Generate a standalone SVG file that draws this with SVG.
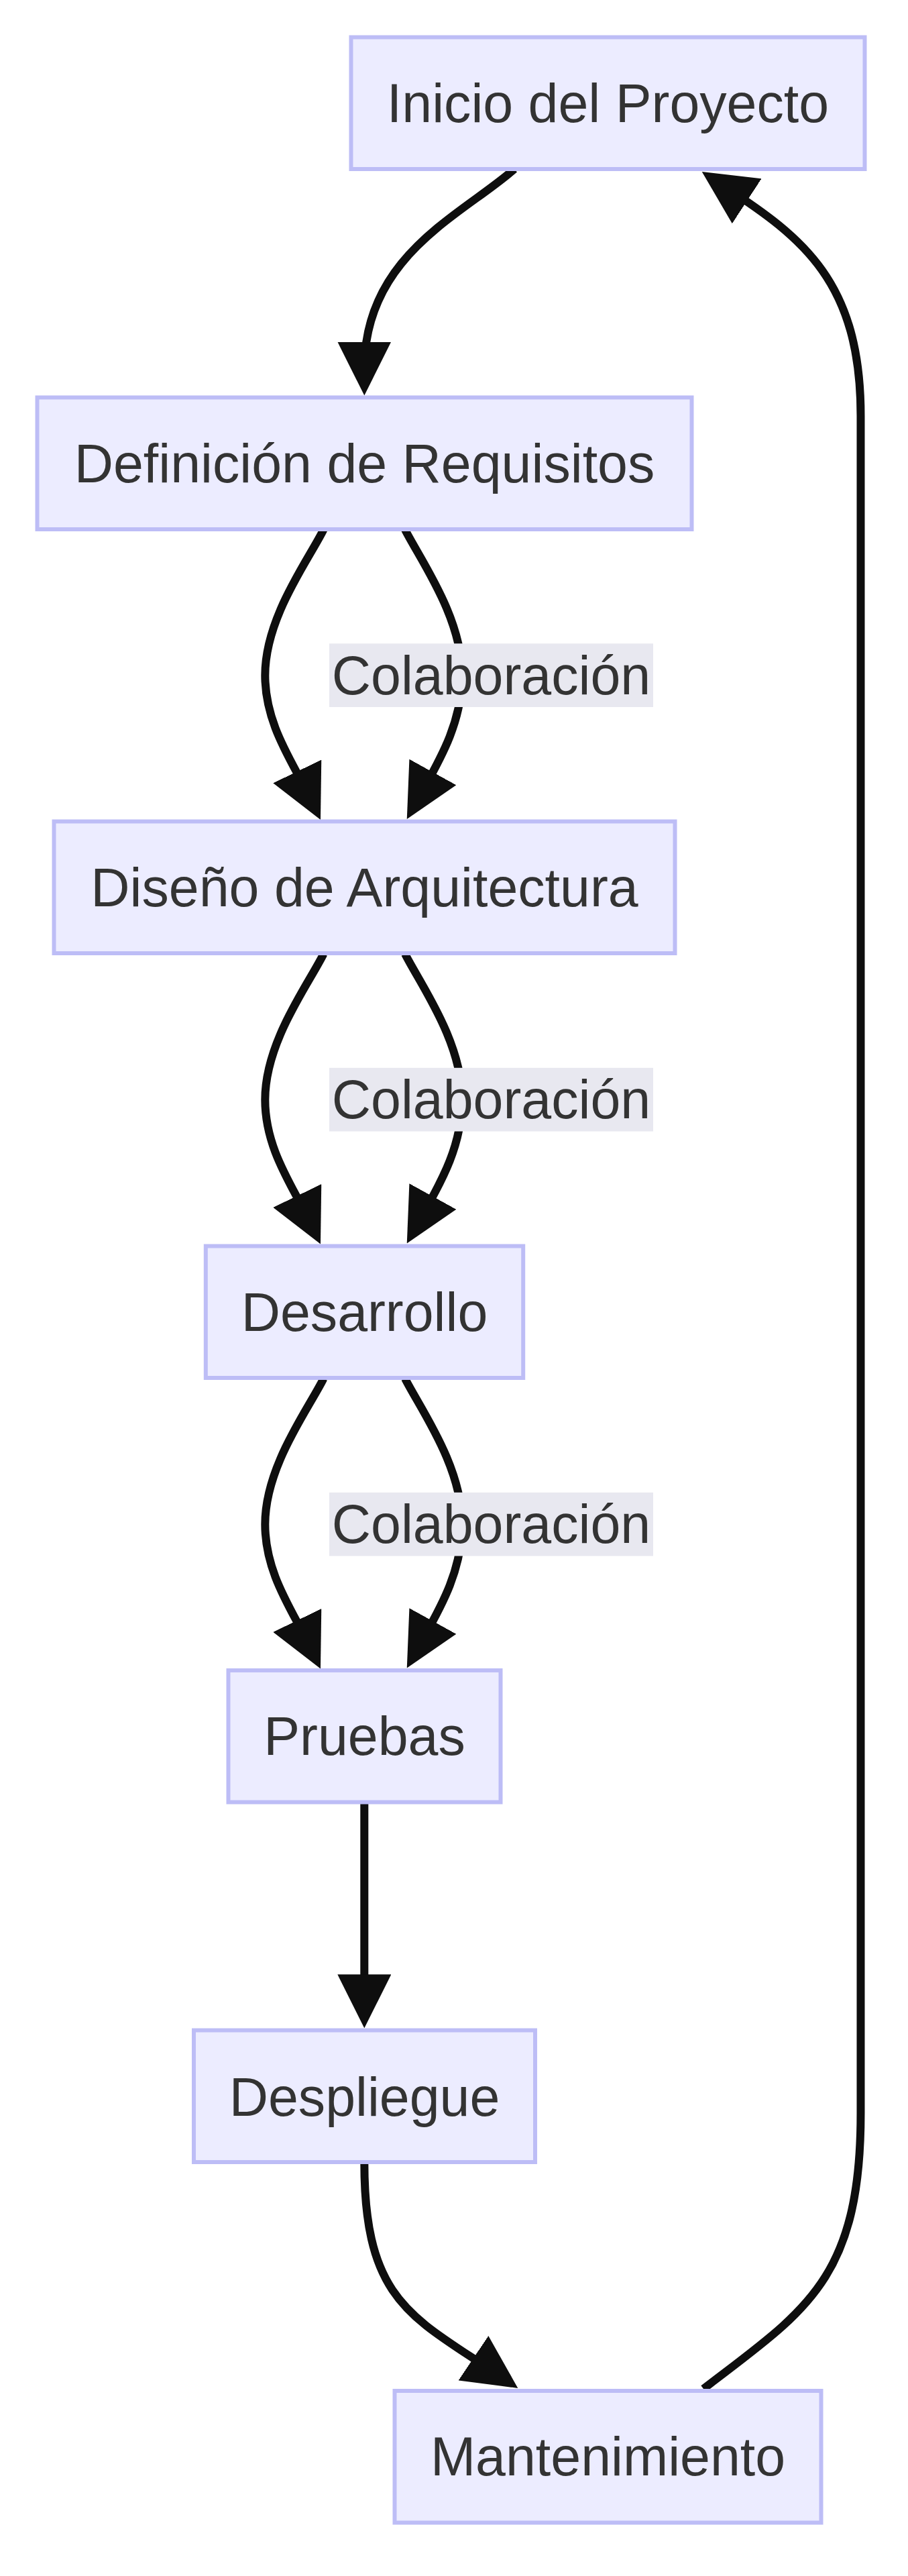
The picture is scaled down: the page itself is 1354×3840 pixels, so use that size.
<svg xmlns="http://www.w3.org/2000/svg" width="1354" height="3840" viewBox="0 0 1354 3840">
<style>
.node rect{fill:#ECECFF;stroke:#BDBDF6;stroke-width:6}
.node text,.lbl text{font-family:"Liberation Sans",Arial,sans-serif;font-size:80.7px;fill:#333333;text-anchor:middle}
.edge{fill:none;stroke:#0e0e0e;stroke-width:12}
.lbl rect{fill:#E8E8F0}
</style>
<defs>
<marker id="arrow" viewBox="0 0 10 10" refX="5" refY="5" markerUnits="userSpaceOnUse" markerWidth="80" markerHeight="80" orient="auto">
<path d="M0,0 L10,5 L0,10 z" fill="#0e0e0e"/>
</marker>
</defs>
<rect width="1354" height="3840" fill="#ffffff"/>
<g id="connectors">
<path class="edge" marker-end="url(#arrow)" d="M767,252 C690,320 543.3,380 543.3,549.5"/>
<path class="edge" marker-end="url(#arrow)" d="M482.5,789.5 C460,835 395.3,920 395.3,1006.7 C395.3,1080 436,1135 460.6,1186"/>
<path class="edge" marker-end="url(#arrow)" d="M604,789.5 C627,835 689,920 689,1006.7 C689,1080 652.6,1138 626.1,1186"/>
<path class="edge" marker-end="url(#arrow)" d="M482.5,1422 C460,1467.5 395.3,1552.5 395.3,1639.2 C395.3,1712.5 436,1767.5 460.6,1818.5"/>
<path class="edge" marker-end="url(#arrow)" d="M604,1422 C627,1467.5 689,1552.5 689,1639.2 C689,1712.5 652.6,1770.5 626.1,1818.5"/>
<path class="edge" marker-end="url(#arrow)" d="M482.5,2055 C460,2100.5 395.3,2185.5 395.3,2272.2 C395.3,2345.5 436,2400.5 460.6,2451.5"/>
<path class="edge" marker-end="url(#arrow)" d="M604,2055 C627,2100.5 689,2185.5 689,2272.2 C689,2345.5 652.6,2403.5 626.1,2451.5"/>
<path class="edge" marker-end="url(#arrow)" d="M543.3,2686.5 L543.3,2983.3"/>
<path class="edge" marker-end="url(#arrow)" d="M543.3,3223 C543.3,3430 614.6,3453.7 739.1,3537.6"/>
<path class="edge" marker-end="url(#arrow)" d="M1049,3561 C1200,3445 1283.5,3400 1283.5,3150 L1283.5,620 C1283.5,420 1197.5,354.5 1080.2,277.9"/>
</g>
<g id="labels">
<g class="lbl" id="label-1"><rect x="491" y="959.3" width="483" height="94.7"/><text x="732.5" y="1034.7">Colaboración</text></g>
<g class="lbl" id="label-2"><rect x="491" y="1591.8" width="483" height="94.7"/><text x="732.5" y="1667.2">Colaboración</text></g>
<g class="lbl" id="label-3"><rect x="491" y="2224.8" width="483" height="94.7"/><text x="732.5" y="2300.2">Colaboración</text></g>
</g>
<g class="node" id="inicio"><rect x="523.5" y="55.5" width="766" height="196.5"/><text x="906.5" y="181.5">Inicio del Proyecto</text></g>
<g class="node" id="definicion"><rect x="55.5" y="592.5" width="976" height="196.5"/><text x="543.5" y="718.7">Definición de Requisitos</text></g>
<g class="node" id="diseno"><rect x="80.5" y="1224.5" width="926" height="196.5"/><text x="543.5" y="1350.7">Diseño de Arquitectura</text></g>
<g class="node" id="desarrollo"><rect x="306.8" y="1857.5" width="473.4" height="196.5"/><text x="543.5" y="1983.5">Desarrollo</text></g>
<g class="node" id="pruebas"><rect x="340.5" y="2490" width="406" height="196.5"/><text x="543.5" y="2616.2">Pruebas</text></g>
<g class="node" id="despliegue"><rect x="289" y="3026.5" width="509" height="196.5"/><text x="543.5" y="3153.5">Despliegue</text></g>
<g class="node" id="mantenimiento"><rect x="588.5" y="3564" width="636" height="196.5"/><text x="906.5" y="3690.3">Mantenimiento</text></g>
</svg>
